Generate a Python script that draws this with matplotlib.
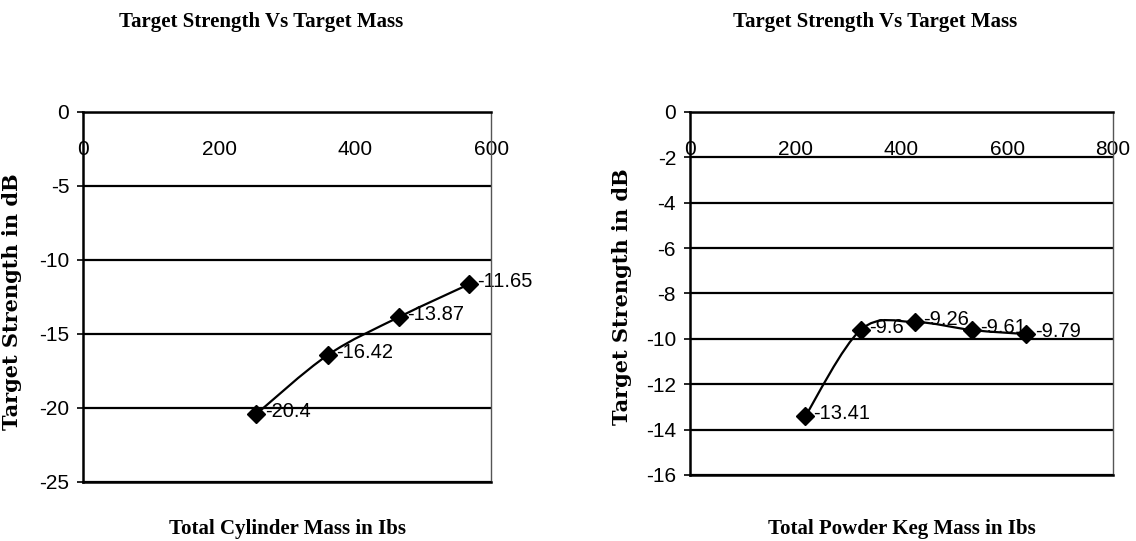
import matplotlib
matplotlib.use('Agg')
import matplotlib.pyplot as plt
from matplotlib.path import Path
from matplotlib.patches import PathPatch
import numpy as np

# values
cyl_mass = [255, 360, 464, 567]
cyl_ts = [-20.4, -16.42, -13.87, -11.65]

keg_mass = [218, 323, 425, 533, 636]
keg_ts = [-13.41, -9.6, -9.26, -9.61, -9.79]

title = 'Target Strength Vs Target Mass'
ylab = 'Target Strength in dB'

plt.rcParams['font.family'] = ['Liberation Sans', 'DejaVu Sans']
plt.rcParams['axes.unicode_minus'] = False


def smooth_path(x, y):
    # Excel-style smoothed line: Catmull-Rom as cubic Bezier segments
    pts = np.column_stack([x, y]).astype(float)
    n = len(pts)
    verts = [pts[0]]
    codes = [Path.MOVETO]
    for i in range(n - 1):
        p0 = pts[max(i - 1, 0)]
        p1 = pts[i]
        p2 = pts[i + 1]
        p3 = pts[min(i + 2, n - 1)]
        verts += [p1 + (p2 - p0) / 6, p2 - (p3 - p1) / 6, p2]
        codes += [Path.CURVE4] * 3
    return Path(verts, codes)


def panel(ax, xs, ys, xmax, ymin, ystep, xlabel, xlab_pos, ylab_pos, title_pos):
    ax.set_xlim(0, xmax)
    ax.set_ylim(ymin, 0)
    ax.set_yticks(np.arange(ymin, 1, ystep))
    ax.set_xticks(np.arange(0, xmax + 1, 200))
    ax.grid(axis='y', color='black', lw=1.6)
    ax.set_axisbelow(True)

    ax.xaxis.set_ticks_position('top')
    ax.tick_params(axis='x', length=0, pad=-34, labelsize=15)
    ax.tick_params(axis='y', length=4, width=1.2, pad=6, labelsize=15)

    for s in ['top', 'left', 'bottom']:
        ax.spines[s].set_color('black')
        ax.spines[s].set_linewidth(1.8)
    ax.spines['right'].set_color('#555555')
    ax.spines['right'].set_linewidth(1.0)

    ax.add_patch(PathPatch(smooth_path(xs, ys), fill=False, ec='black', lw=1.6, zorder=3))
    ax.plot(xs, ys, ls='none', marker='D', ms=9, color='black', zorder=4)
    for x, y in zip(xs, ys):
        ax.annotate(f'{y:g}', (x, y), xytext=(6, 2), textcoords='offset points',
                    ha='left', va='center', fontsize=14.5, zorder=2)

    ax.set_xlabel(xlabel, family='Liberation Serif', fontweight='bold', fontsize=15)
    ax.xaxis.set_label_coords(*xlab_pos)
    ax.set_ylabel(ylab, family='DejaVu Serif', fontweight='bold', fontsize=15)
    ax.yaxis.set_label_coords(*ylab_pos)
    ax.text(title_pos[0], title_pos[1], title, transform=ax.transAxes, ha='center', va='center',
            family='Liberation Serif', fontweight='bold', fontsize=15)


fig = plt.figure(figsize=(11.36, 5.41), dpi=100)
ax1 = fig.add_axes([0.0731, 0.1091, 0.3592, 0.6839])
ax2 = fig.add_axes([0.6074, 0.1220, 0.3724, 0.6710])

panel(ax1, cyl_mass, cyl_ts, 600, -25, 5, 'Total Cylinder Mass in Ibs',
      (0.5, -0.10), (-0.150, 0.486), (0.436, 1.243))
panel(ax2, keg_mass, keg_ts, 800, -16, 2, 'Total Powder Keg Mass in Ibs',
      (0.5, -0.121), (-0.137, 0.49), (0.437, 1.248))

fig.savefig('out.png', dpi=100, facecolor='white')
